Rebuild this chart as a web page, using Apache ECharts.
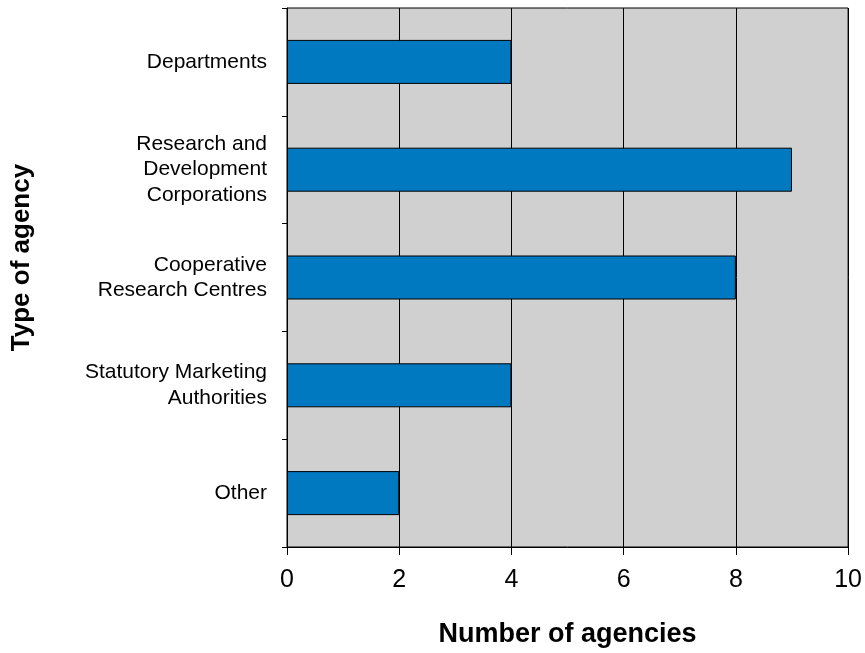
<!DOCTYPE html>
<html>
<head>
<meta charset="utf-8">
<script src="https://cdn.jsdelivr.net/npm/echarts@6/dist/echarts.min.js"></script>
<style>html,body{margin:0;padding:0;background:#fff}#c{width:865px;height:653px}</style>
</head>
<body>
<div id="c"></div>
<script>
const categories = ["Departments", "Research and\nDevelopment\nCorporations", "Cooperative\nResearch Centres", "Statutory Marketing\nAuthorities", "Other"];
const agencyCounts = [4, 9, 8, 4, 2];
const xTicks = [0, 2, 4, 6, 8, 10];

const chart = echarts.init(document.getElementById('c'));
chart.setOption({
  animation: false,
  textStyle: { fontFamily: 'Liberation Sans, Arial, sans-serif' },
  grid: { left: 287, right: 14, top: 8, bottom: 105, show: true, backgroundColor: '#d0d0d0', borderColor: '#000', borderWidth: 1 },
  xAxis: {
    type: 'value', min: xTicks[0], max: xTicks[xTicks.length - 1], interval: 2,
    name: 'Number of agencies', nameLocation: 'middle', nameGap: 74,
    nameTextStyle: { fontSize: 27, fontWeight: 'bold', color: '#000' },
    axisLine: { show: true, lineStyle: { color: '#000', width: 1 } },
    axisTick: { show: true, length: 8, lineStyle: { color: '#000' } },
    axisLabel: { fontSize: 25, color: '#000', margin: 21 },
    splitLine: { show: true, lineStyle: { color: '#000', width: 1 } }
  },
  yAxis: {
    type: 'category', data: categories, inverse: true,
    name: 'Type of agency', nameLocation: 'middle', nameGap: 252, nameRotate: 90,
    nameTextStyle: { fontSize: 26, fontWeight: 'bold', color: '#000', padding: [0, 0, 0, 40] },
    axisLine: { show: true, lineStyle: { color: '#000', width: 1 } },
    axisTick: { show: true, length: 5, lineStyle: { color: '#000' } },
    axisLabel: { fontSize: 21, color: '#000', margin: 20, lineHeight: 25.5, align: 'right', padding: [7, 0, 0, 0] },
    splitLine: { show: false }
  },
  series: [{
    type: 'bar', data: agencyCounts, barWidth: 44,
    itemStyle: { color: '#0079C1', borderColor: '#000', borderWidth: 1 }
  }]
});
</script>
</body>
</html>
